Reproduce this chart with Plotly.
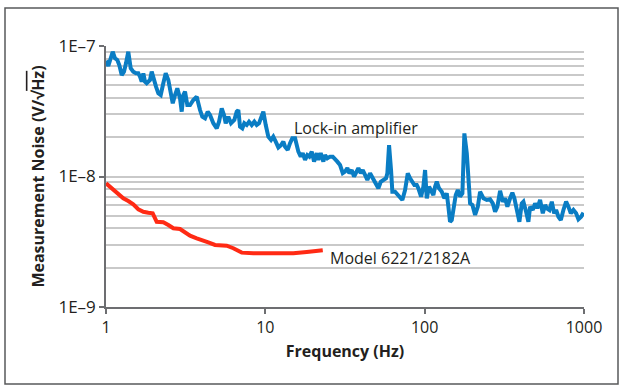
import plotly.graph_objects as go

# ---------------- data ----------------
lockin_freq_hz = [
    1.00, 1.034, 1.102, 1.139, 1.177, 1.212, 1.255, 1.297, 1.335, 1.380,
    1.429, 1.483, 1.543, 1.595, 1.635, 1.675, 1.715, 1.757, 1.801, 1.889,
    1.936, 1.981, 2.060, 2.130, 2.205, 2.289, 2.370, 2.461, 2.548, 2.624,
    2.712, 2.803, 2.914, 2.987, 3.057, 3.133, 3.239, 3.368, 3.532, 3.710,
    3.891, 4.022, 4.183, 4.348, 4.496, 4.717, 4.954, 5.122, 5.325, 5.504,
    5.641, 5.857, 6.090, 6.388, 6.614, 6.768, 6.937, 7.171, 7.382, 7.642,
    7.901, 8.215, 8.530, 8.831, 9.130, 9.398, 9.714, 10.06, 10.44, 10.86,
    11.22, 11.62, 12.07, 12.55, 12.97, 13.30, 13.82, 14.29, 14.77, 15.37,
    15.59, 16.12, 16.68, 17.17, 17.75, 18.35, 18.89, 19.56, 20.22, 21.02,
    21.51, 22.27, 23.13, 23.70, 24.50, 25.48, 26.49, 27.38, 28.31, 29.44,
    30.61, 31.64, 32.72, 33.68, 34.87, 36.05, 37.11, 38.36, 39.71, 40.87,
    42.26, 43.69, 45.42, 46.55, 47.64, 49.54, 51.22, 53.02, 55.05, 57.25,
    58.33, 59.78, 61.52, 62.69, 65.19, 67.78, 70.05, 72.44, 75.34, 78.34,
    80.98, 83.73, 86.19, 89.22, 91.31, 94.94, 98.13, 100.6, 103.1, 106.6,
    109.7, 113.4, 116.2, 119.1, 123.1, 128.1, 133.0, 137.6, 140.9, 144.3,
    147.9, 151.4, 156.7, 161.4, 166.8, 172.5, 177.5, 183.8, 188.1, 192.8,
    199.3, 207.3, 215.5, 222.7, 233.6, 245.4, 257.4, 267.6, 276.7, 286.0,
    297.4, 309.3, 319.7, 330.4, 343.6, 355.2, 365.7, 378.6, 393.1, 406.9,
    416.5, 433.1, 447.7, 458.8, 477.1, 493.2, 509.9, 530.2, 551.3, 570.0,
    584.2, 606.6, 628.0, 649.2, 668.3, 690.9, 715.3, 742.6, 772.3, 798.3,
    826.4, 858.2, 892.3, 922.4, 959.0, 991.3,
]
lockin_noise_nv = [
    77.2, 70.3, 90.4, 80.5, 78.1, 71.5, 59.9, 63.6, 73.7, 90.4,
    67.5, 63.6, 61.8, 61.8, 58.2, 53.3, 61.8, 53.3, 51.8, 54.9,
    63.6, 56.6, 48.8, 43.4, 42.1, 51.8, 61.8, 54.9, 42.1, 36.4,
    42.1, 47.4, 39.7, 31.4, 42.1, 44.7, 35.3, 35.3, 38.6, 40.9,
    32.3, 28.7, 27.9, 31.4, 29.6, 25.6, 23.4, 26.3, 33.3, 29.6,
    25.6, 28.7, 25.6, 27.1, 31.4, 32.3, 24.1, 23.4, 25.6, 24.8,
    26.3, 24.8, 26.3, 24.8, 25.6, 27.9, 31.4, 24.8, 20.2, 19.05,
    20.2, 18.5, 16.7, 17.4, 18.5, 16.9, 16.0, 18.0, 19.6, 19.6,
    18.0, 15.5, 14.2, 15.1, 13.4, 14.6, 14.2, 15.5, 13.0, 15.1,
    13.4, 15.1, 13.0, 14.6, 13.8, 14.2, 14.2, 13.4, 13.0, 12.25,
    10.6, 10.9, 11.6, 10.6, 11.2, 9.97, 10.9, 11.6, 10.6, 11.2,
    10.3, 9.4, 10.6, 9.97, 9.4, 8.61, 8.12, 9.12, 9.4, 9.69,
    10.6, 17.4, 11.2, 7.65, 7.65, 7.21, 7.00, 6.61, 7.88, 10.6,
    9.69, 9.12, 8.61, 8.61, 8.12, 7.00, 8.35, 11.2, 6.81, 8.35,
    7.88, 7.21, 8.35, 9.12, 8.12, 7.65, 6.81, 7.43, 5.87, 4.50,
    4.64, 5.87, 7.21, 7.88, 7.00, 7.43, 21.4, 15.1, 8.87, 6.23,
    6.05, 5.07, 5.87, 7.65, 6.81, 6.61, 6.69, 6.23, 5.37, 5.87,
    7.78, 6.41, 6.81, 5.87, 6.81, 7.51, 6.81, 5.71, 4.50, 6.23,
    6.41, 5.37, 4.50, 5.87, 5.54, 6.23, 5.71, 6.61, 5.22, 6.05,
    5.71, 5.54, 6.41, 5.22, 5.54, 4.92, 4.64, 5.54, 6.41, 5.87,
    5.22, 5.54, 5.22, 4.70, 4.92, 5.28,
]

model_freq_hz = [
    1.00, 1.060, 1.111, 1.194, 1.284, 1.380, 1.483, 1.595, 1.715, 1.843,
    1.964, 2.081, 2.289, 2.461, 2.646, 2.914, 3.133, 3.368, 3.710, 4.081,
    4.386, 4.833, 5.325, 5.724, 6.296, 7.109, 8.409, 11.22, 14.99, 18.19,
    22.93,
]
model_noise_nv = [
    8.87, 8.35, 7.78, 7.34, 6.81, 6.49, 6.12, 5.61, 5.37, 5.28,
    5.22, 4.50, 4.46, 4.25, 4.01, 3.96, 3.71, 3.52, 3.36, 3.26,
    3.13, 2.99, 2.95, 2.95, 2.82, 2.61, 2.58, 2.57, 2.58, 2.64,
    2.72,
]

x_tick_vals = [1, 10, 100, 1000]
x_tick_text = ["1", "10", "100", "1000"]
y_tick_vals = [1e-9, 1e-8, 1e-7]
y_tick_text = ["1E\u20139", "1E\u20138", "1E\u20137"]
y_minor_vals = [m * d for d in (1e-9, 1e-8) for m in range(2, 10)]

series_labels = ["Lock-in amplifier", "Model 6221/2182A"]

NV = 1e-9
BLUE = "#0a7dc4"
RED = "#ff2a14"
TEXT = "#231f20"
GRID = "#c9c9c9"
AXIS = "#6d6e71"
FONT = "Open Sans, Noto Sans, Liberation Sans, sans-serif"

fig = go.Figure()
fig.add_trace(go.Scatter(
    x=lockin_freq_hz, y=[v * NV for v in lockin_noise_nv],
    mode="lines", line=dict(color=BLUE, width=4),
    name=series_labels[0], showlegend=False, hoverinfo="skip",
))
fig.add_trace(go.Scatter(
    x=model_freq_hz, y=[v * NV for v in model_noise_nv],
    mode="lines", line=dict(color=RED, width=4),
    name=series_labels[1], showlegend=False, hoverinfo="skip",
))

fig.update_layout(
    width=625, height=390,
    margin=dict(l=106, r=41, t=46, b=83),
    paper_bgcolor="white", plot_bgcolor="white",
    font=dict(family=FONT, color=TEXT),
    xaxis=dict(
        type="log", range=[0, 3],
        tickmode="array", tickvals=x_tick_vals, ticktext=x_tick_text,
        ticks="outside", ticklen=5, tickwidth=1.5, tickcolor=AXIS,
        tickfont=dict(size=16, color=TEXT),
        showline=True, linecolor=AXIS, linewidth=1.5,
        showgrid=False, zeroline=False,
        title=dict(text="<b>Frequency (Hz)</b>", font=dict(size=16, color=TEXT), standoff=9),
    ),
    yaxis=dict(
        type="log", range=[-9, -7],
        tickmode="array", tickvals=y_tick_vals, ticktext=y_tick_text,
        ticks="outside", ticklen=5, tickwidth=1.5, tickcolor=AXIS,
        tickfont=dict(size=17, color=TEXT),
        showline=True, linecolor=AXIS, linewidth=1.5,
        showgrid=True, gridcolor=GRID, gridwidth=1.5,
        zeroline=False,
        minor=dict(tickmode="array", tickvals=y_minor_vals, showgrid=True,
                   gridcolor=GRID, gridwidth=1.5, ticks=""),
        title=dict(text="<b>Measurement Noise (V/\u221a<span style='text-decoration:overline'>Hz</span>)</b>",
                   font=dict(size=16, color=TEXT), standoff=10),
    ),
    shapes=[dict(
        type="rect", xref="paper", yref="paper",
        x0=(5 - 106) / 478, x1=(618 - 106) / 478,
        y0=(307 - 384) / 261, y1=(307 - 8) / 261,
        line=dict(color="#58595b", width=1.5), fillcolor="rgba(0,0,0,0)", layer="below",
    )],
    annotations=[
        dict(x=1.1676, y=-7.628, xref="x", yref="y", text=series_labels[0],
             showarrow=False, xanchor="left", yanchor="middle",
             font=dict(size=16, color=TEXT)),
        dict(x=1.3936, y=-8.6245, xref="x", yref="y", text=series_labels[1],
             showarrow=False, xanchor="left", yanchor="middle",
             font=dict(size=16, color=TEXT)),
    ],
)

fig.write_html("out.html", config={"displayModeBar": False},
               post_script="document.body.style.margin='0';")
